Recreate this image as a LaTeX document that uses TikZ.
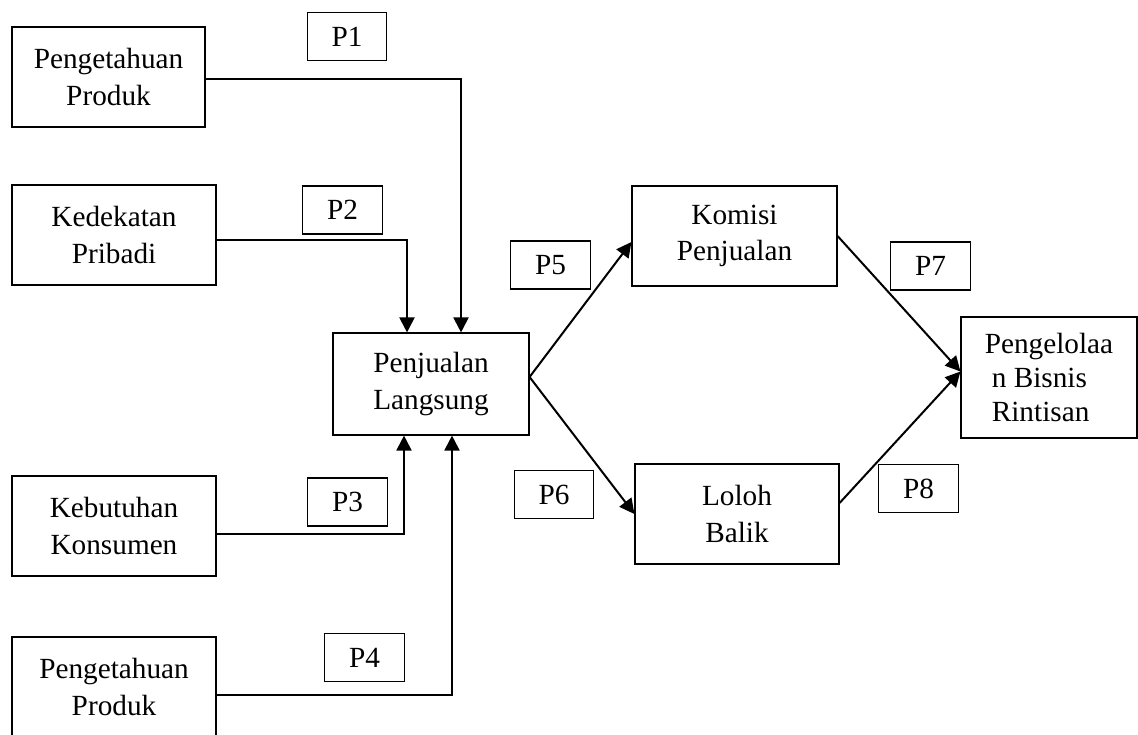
\documentclass[tikz,border=0pt]{standalone}
\usepackage{fontspec}
\setmainfont{Liberation Serif}
\usetikzlibrary{arrows.meta}

\begin{document}
\begin{tikzpicture}[x=0.4pt,y=-0.4pt,
    font=\fontsize{11.7}{14.6}\selectfont,
    box/.style={draw,line width=0.45pt,align=center,minimum width=81.6pt,minimum height=40pt,inner sep=0pt},
    pnum/.style={draw,line width=0.45pt,minimum width=31.8pt,minimum height=19.2pt,inner sep=0pt},
    arr/.style={line width=0.8pt,-{Triangle[length=6pt,width=6pt]}}]
    \useasboundingbox (0,0) rectangle (1138,734);
    \clip (0,0) rectangle (1138,734);

    % Factor boxes
    \node[box,minimum width=77.2pt] (pp1) at (108.5,77) {Pengetahuan\\Produk};
    \node[box] (kp) at (114,235) {Kedekatan\\Pribadi};
    \node[box] (kk) at (114,526) {Kebutuhan\\Konsumen};
    \node[box] (pp2) at (114,687) {Pengetahuan\\Produk};

    % Middle and outcome boxes
    \node[box,minimum width=78.4pt,minimum height=40.8pt] (pl) at (431,384) {Penjualan\\Langsung};
    \node[box,minimum width=82pt] (kom) at (734.5,236) {Komisi\\Penjualan};
    \node[box] (lb) at (737,514) {Loloh\\Balik};
    \node[box,minimum width=70.4pt,minimum height=48.4pt,align=left,
        font=\fontsize{11.7}{13.6}\selectfont] (pbr) at (1049,377.5)
        {Pengelolaa\\\hspace*{2.8pt}n Bisnis\\\hspace*{2.8pt}Rintisan};

    % Path labels
    \node[pnum] (p1) at (347,36.5) {P1};
    \node[pnum] (p2) at (342.5,210) {P2};
    \node[pnum] (p3) at (347.5,502) {P3};
    \node[pnum] (p4) at (364.5,657.5) {P4};
    \node[pnum] (p5) at (550.5,265) {P5};
    \node[pnum] (p6) at (554,494.5) {P6};
    \node[pnum] (p7) at (930.5,266) {P7};
    \node[pnum] (p8) at (918.5,488.5) {P8};

    % Connectors
    \draw[arr] ([yshift=-0.8pt]pp1.east) -| ([xshift=12pt]pl.north);
    \draw[arr] ([yshift=-2pt]kp.east) -| ([xshift=-9.6pt]pl.north);
    \draw[arr] ([yshift=-3.2pt]kk.east) -| ([xshift=-10.8pt]pl.south);
    \draw[arr] ([yshift=-3.2pt]pp2.east) -| ([xshift=8.4pt]pl.south);
    \draw[arr] ([yshift=2.8pt]pl.east) -- ([yshift=-2.4pt]kom.west);
    \draw[arr] ([yshift=2.8pt]pl.east) -- (lb.west);
    \draw[arr] (kom.east) -- ([yshift=2.4pt]pbr.west);
    \draw[arr] ([yshift=4.4pt]lb.east) -- ([yshift=2.4pt]pbr.west);
\end{tikzpicture}
\end{document}
